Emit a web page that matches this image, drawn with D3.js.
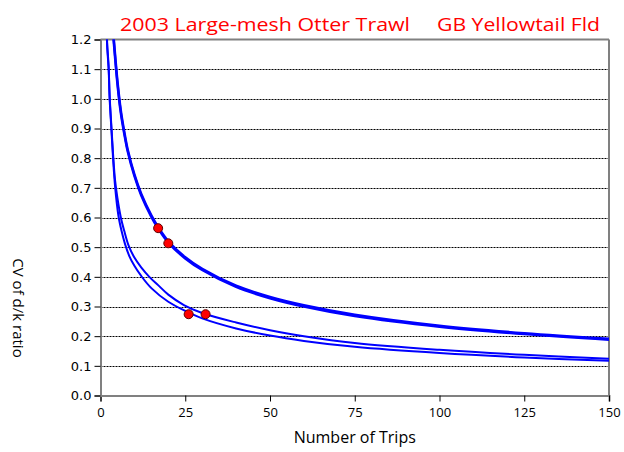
<!DOCTYPE html>
<html>
<head>
<meta charset="utf-8">
<script src="https://cdn.jsdelivr.net/npm/d3@7"></script>
<style>
  html, body { margin: 0; padding: 0; background: #fff; }
  svg { display: block; }
</style>
</head>
<body>
<svg id="chart" width="624" height="452"></svg>
<script>
// ---- data ----
const titleLeft = "2003 Large-mesh Otter Trawl";
const titleRight = "GB Yellowtail Fld";
const xLabel = "Number of Trips";
const yLabel = "CV of d/k ratio";
const xTicks = [0, 25, 50, 75, 100, 125, 150];
const yTicks = [0, 0.1, 0.2, 0.3, 0.4, 0.5, 0.6, 0.7, 0.8, 0.9, 1.0, 1.1, 1.2];

// upper pair of curves (nearly coincident)
const upperA_n = [3.5, 4, 5, 6, 7, 8, 10, 12, 15, 17, 20, 25, 30, 40, 50, 60, 75, 100, 125, 150];
const upperA_v = [1.26, 1.19, 1.06, 0.96, 0.89, 0.83, 0.745, 0.68, 0.607, 0.568, 0.52, 0.466, 0.427, 0.370, 0.332, 0.304, 0.272, 0.235, 0.210, 0.191];
const upperB_n = [3.5, 4, 5, 6, 7, 8, 10, 12, 15, 17, 20, 25, 30, 40, 50, 60, 75, 100, 125, 150];
const upperB_v = [1.25, 1.18, 1.05, 0.952, 0.883, 0.824, 0.74, 0.675, 0.602, 0.563, 0.515, 0.462, 0.423, 0.366, 0.328, 0.300, 0.268, 0.232, 0.207, 0.188];

// lower pair of curves
const lowerC_n = [1.8, 2, 2.4, 2.7, 3.2, 3.7, 4.3, 5, 6, 7, 8.3, 10, 12, 14.4, 17, 20, 24.6, 30, 40, 50, 60, 75, 100, 125, 150];
const lowerC_v = [1.24, 1.18, 1.11, 1.01, 0.91, 0.815, 0.725, 0.665, 0.60, 0.555, 0.505, 0.465, 0.432, 0.40, 0.372, 0.34, 0.305, 0.278, 0.246, 0.220, 0.200, 0.177, 0.154, 0.137, 0.124];
const lowerD_n = [1.8, 2, 2.4, 2.7, 3.2, 3.7, 4.3, 5.3, 6.2, 7.2, 8.5, 10, 12, 15, 20, 25, 30, 40, 50, 60, 75, 100, 125, 150];
const lowerD_v = [1.23, 1.17, 1.10, 1.0, 0.90, 0.80, 0.705, 0.605, 0.555, 0.512, 0.47, 0.437, 0.403, 0.362, 0.316, 0.285, 0.260, 0.226, 0.202, 0.184, 0.164, 0.143, 0.128, 0.117];

// red marker points
const dots_n = [17, 20, 26, 31];
const dots_v = [0.564, 0.513, 0.274, 0.274];

// ---- drawing ----
const svg = d3.select("#chart");
const L = 100.5, R = 609, T = 39.5, B = 395.5;
const x = d3.scaleLinear().domain([0, 150]).range([L, R]);
const y = d3.scaleLinear().domain([0, 1.2]).range([B, T]);

const comic = "'Comic Sans MS', 'Open Sans', sans-serif";
const verd = "Verdana, 'DejaVu Sans', sans-serif";

svg.append("defs").append("clipPath").attr("id", "plotclip")
  .append("rect").attr("x", L).attr("y", T).attr("width", R - L).attr("height", B - T);

// dotted gridlines
svg.append("g").selectAll("line")
  .data(yTicks.filter(t => t > 0 && t < 1.2))
  .join("line")
  .attr("x1", L).attr("x2", R)
  .attr("y1", d => Math.round(y(d)) + 0.5).attr("y2", d => Math.round(y(d)) + 0.5)
  .attr("stroke", "#000").attr("stroke-width", 1)
  .attr("stroke-dasharray", "2,1");

// frame top and right
svg.append("line").attr("x1", L).attr("x2", R).attr("y1", T).attr("y2", T)
  .attr("stroke", "#808080").attr("stroke-width", 2);
svg.append("line").attr("x1", R).attr("x2", R).attr("y1", T).attr("y2", B)
  .attr("stroke", "#808080").attr("stroke-width", 2);

// axes
const xAxis = svg.append("g").attr("transform", `translate(0,${B})`)
  .call(d3.axisBottom(x).tickValues(xTicks).tickSize(6).tickPadding(6).tickFormat(d3.format("d")));
xAxis.select(".domain").attr("stroke", "#808080").attr("stroke-width", 2);
xAxis.selectAll(".tick line").attr("stroke", "#000");
xAxis.selectAll(".tick text").attr("font-family", comic).attr("font-size", 13).attr("fill", "#000");

const yAxis = svg.append("g").attr("transform", `translate(${L},0)`)
  .call(d3.axisLeft(y).tickValues(yTicks).tickSize(6).tickPadding(3).tickFormat(d3.format(".1f")));
yAxis.select(".domain").attr("stroke", "#808080").attr("stroke-width", 2);
yAxis.selectAll(".tick line").attr("stroke", "#000");
yAxis.selectAll(".tick text").attr("font-family", verd).attr("font-size", 13).attr("fill", "#000");

// curves
const line = d3.line().x(d => x(d[0])).y(d => y(d[1])).curve(d3.curveCatmullRom.alpha(0.5));
const curves = [
  { n: lowerC_n, v: lowerC_v, w: 2 },
  { n: lowerD_n, v: lowerD_v, w: 2 },
  { n: upperA_n, v: upperA_v, w: 2.5 },
  { n: upperB_n, v: upperB_v, w: 2.5 }
];
const cg = svg.append("g").attr("clip-path", "url(#plotclip)");
curves.forEach(c => {
  cg.append("path")
    .datum(c.n.map((n, i) => [n, c.v[i]]))
    .attr("d", line)
    .attr("fill", "none")
    .attr("stroke", "#0000FF")
    .attr("stroke-width", c.w);
});

// red dots
svg.append("g").selectAll("circle")
  .data(dots_n.map((n, i) => [n, dots_v[i]]))
  .join("circle")
  .attr("cx", d => x(d[0])).attr("cy", d => y(d[1]))
  .attr("r", 4.5)
  .attr("fill", "#FF0000").attr("stroke", "#600000").attr("stroke-width", 1);

// title
svg.append("text").attr("x", 120).attr("y", 31)
  .attr("font-family", comic).attr("font-size", 19).attr("fill", "#FF0000")
  .attr("textLength", 290).attr("lengthAdjust", "spacingAndGlyphs")
  .text(titleLeft);
svg.append("text").attr("x", 437).attr("y", 31)
  .attr("font-family", comic).attr("font-size", 19).attr("fill", "#FF0000")
  .attr("textLength", 163).attr("lengthAdjust", "spacingAndGlyphs")
  .text(titleRight);

// axis titles
svg.append("text").attr("x", (L + R) / 2).attr("y", 443)
  .attr("text-anchor", "middle")
  .attr("font-family", comic).attr("font-size", 16).attr("fill", "#000")
  .text(xLabel);
svg.append("text")
  .attr("transform", "translate(13,308) rotate(90)")
  .attr("text-anchor", "middle")
  .attr("font-family", comic).attr("font-size", 15).attr("fill", "#000")
  .text(yLabel);
</script>
</body>
</html>
